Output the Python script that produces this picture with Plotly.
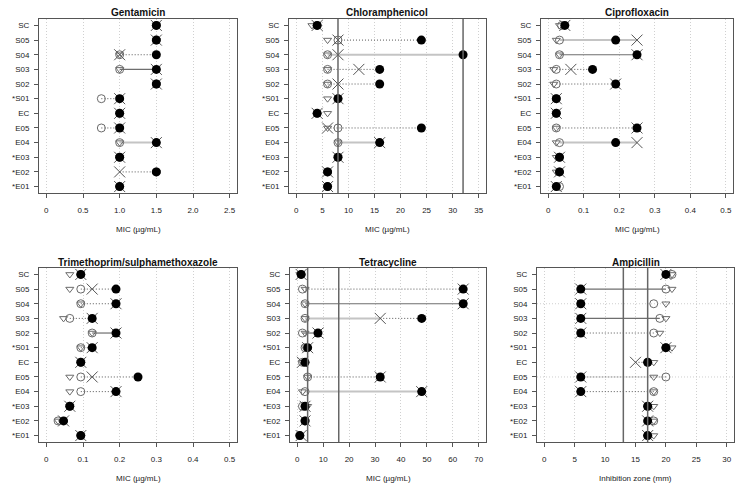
import plotly.graph_objects as go

cats = ["SC", "S05", "S04", "S03", "S02", "*S01", "EC", "E05", "E04", "*E03", "*E02", "*E01"]

# ---- Gentamicin ----
gen_tri   = [1.5, 1.5, 1.0, 1.0, 1.5, 1.0, 1.0, 1.0, 1.0, 1.0, 1.5, 1.0]
gen_circ  = [1.5, 1.5, 1.0, 1.0, 1.5, 0.75, 1.0, 0.75, 1.0, 1.0, 1.5, 1.0]
gen_x     = [1.5, 1.5, 1.0, 1.5, 1.5, 1.0, 1.0, 1.0, 1.5, 1.0, 1.0, 1.0]
gen_black = [1.5, 1.5, 1.5, 1.5, 1.5, 1.0, 1.0, 1.0, 1.5, 1.0, 1.5, 1.0]
gen_style = [None, None, "dot", "solid", None, "dot", None, "dot", "light", None, "dot", None]

# ---- Chloramphenicol ----
chl_tri   = [3, 6, 6, 6, 6, 6, 6, 6, 8, 8, 6, 6]
chl_circ  = [4, 8, 6, 6, 6, 8, 4, 8, 8, 8, 6, 6]
chl_x     = [4, 8, 8, 12, 8, 8, 4, 6, 16, 8, 6, 6]
chl_black = [4, 24, 32, 16, 16, 8, 4, 24, 16, 8, 6, 6]
chl_style = [None, "dot", "light", "dot", "dot", None, None, "dot", "light", None, None, None]

# ---- Ciprofloxacin ----
cip_tri   = [0.032, 0.023, 0.032, 0.016, 0.016, 0.023, 0.023, 0.023, 0.023, 0.023, 0.023, 0.023]
cip_circ  = [0.038, 0.032, 0.032, 0.023, 0.023, 0.023, 0.023, 0.023, 0.032, 0.032, 0.032, 0.032]
cip_x     = [0.047, 0.25, 0.25, 0.064, 0.19, 0.023, 0.023, 0.25, 0.25, 0.032, 0.032, 0.023]
cip_black = [0.047, 0.19, 0.25, 0.125, 0.19, 0.023, 0.023, 0.25, 0.19, 0.032, 0.032, 0.023]
cip_style = [None, "light", "solid", "dot", "dot", None, None, "dot", "light", None, None, None]

# ---- Trimethoprim/sulphamethoxazole ----
tmp_tri   = [0.064, 0.064, 0.094, 0.047, 0.125, 0.094, 0.094, 0.064, 0.064, 0.064, 0.032, 0.094]
tmp_circ  = [0.094, 0.094, 0.094, 0.064, 0.125, 0.094, 0.094, 0.094, 0.094, 0.064, 0.032, 0.094]
tmp_x     = [0.094, 0.125, 0.19, 0.125, 0.19, 0.125, 0.094, 0.125, 0.19, 0.064, 0.047, 0.094]
tmp_black = [0.094, 0.19, 0.19, 0.125, 0.19, 0.125, 0.094, 0.25, 0.19, 0.064, 0.047, 0.094]
tmp_style = [None, "dot", "dot", "dot", "solid", "dot", None, "dot", "dot", None, "dot", None]

# ---- Tetracycline ----
tet_tri   = [1, 3, 3, 3, 3, 3, 2, 4, 2, 4, 3, 1]
tet_circ  = [1.5, 2, 3, 3, 2, 3, 2, 4, 3, 2, 3, 1]
tet_x     = [1.5, 64, 64, 32, 8, 4, 2, 32, 48, 3, 3, 1.5]
tet_black = [1.5, 64, 64, 48, 8, 4, 3, 32, 48, 3, 3, 1]
tet_style = [None, "dot", "solid", "mixed", "solid", None, None, "dot", "light", None, None, None]

# ---- Ampicillin ----
amp_tri   = [21, 21, 20, 20, 19, 21, 18, 18, 18, 18, 18, 18]
amp_circ  = [21, 20, 18, 19, 18, 20, 17, 20, 18, 17, 18, 17]
amp_x     = [20, 6, 6, 6, 6, 20, 15, 6, 6, 17, 17, 17]
amp_black = [20, 6, 6, 6, 6, 20, 17, 6, 6, 17, 17, 17]
amp_style = [None, "solid", None, "solid", "dot", None, "dot", "dot", "dot", None, None, None]
amp_hgrid = ["S04", "E05"]

mic_label = "MIC (µg/mL)"
zone_label = "Inhibition zone (mm)"

panels = [
    dict(title="Gentamicin", tri=gen_tri, circ=gen_circ, x=gen_x, black=gen_black, style=gen_style,
         xmax=2.5, tv=[0, 0.5, 1.0, 1.5, 2.0, 2.5], tt=["0", "0.5", "1.0", "1.5", "2.0", "2.5"],
         breaks=[], hgrid=[], xlabel=mic_label, dom=(39, 237, 19, 193)),
    dict(title="Chloramphenicol", tri=chl_tri, circ=chl_circ, x=chl_x, black=chl_black, style=chl_style,
         xmax=35, tv=[0, 5, 10, 15, 20, 25, 30, 35], tt=["0", "5", "10", "15", "20", "25", "30", "35"],
         breaks=[8, 32], hgrid=[], xlabel=mic_label, dom=(289, 486, 19, 193)),
    dict(title="Ciprofloxacin", tri=cip_tri, circ=cip_circ, x=cip_x, black=cip_black, style=cip_style,
         xmax=0.5, tv=[0, 0.1, 0.2, 0.3, 0.4, 0.5], tt=["0", "0.1", "0.2", "0.3", "0.4", "0.5"],
         breaks=[], hgrid=[], xlabel=mic_label, dom=(541, 733, 19, 193)),
    dict(title="Trimethoprim/sulphamethoxazole", tri=tmp_tri, circ=tmp_circ, x=tmp_x, black=tmp_black,
         style=tmp_style, xmax=0.5, tv=[0, 0.1, 0.2, 0.3, 0.4, 0.5], tt=["0", "0.1", "0.2", "0.3", "0.4", "0.5"],
         breaks=[], hgrid=[], xlabel=mic_label, dom=(39, 237, 268, 442)),
    dict(title="Tetracycline", tri=tet_tri, circ=tet_circ, x=tet_x, black=tet_black, style=tet_style,
         xmax=70, tv=[0, 10, 20, 30, 40, 50, 60, 70], tt=["0", "10", "20", "30", "40", "50", "60", "70"],
         breaks=[4, 16], hgrid=[], xlabel=mic_label, dom=(290, 486, 268, 442)),
    dict(title="Ampicillin", tri=amp_tri, circ=amp_circ, x=amp_x, black=amp_black, style=amp_style,
         xmax=30, tv=[0, 5, 10, 15, 20, 25, 30], tt=["0", "5", "10", "15", "20", "25", "30"],
         breaks=[13, 17], hgrid=amp_hgrid, xlabel=zone_label, dom=(537, 734, 268, 442)),
]

W, H = 746, 490
ypos = [len(cats) - 1 - i for i in range(len(cats))]
FONT = "Liberation Sans, Arial, sans-serif"

fig = go.Figure()
annotations = []
shapes = []
layout = {}

line_styles = {
    "dot": dict(color="#555555", width=1, dash="1px,2px"),
    "solid": dict(color="#6e6e6e", width=1.2, dash="solid"),
    "light": dict(color="#c4c4c4", width=2, dash="solid"),
}

for k, p in enumerate(panels):
    n = k + 1
    xa = "x" if n == 1 else f"x{n}"
    ya = "y" if n == 1 else f"y{n}"
    x0, x1, y0, y1 = p["dom"]
    lo_r, hi_r = -0.04 * p["xmax"], 1.04 * p["xmax"]

    for c in p["hgrid"]:
        yy = ypos[cats.index(c)]
        fig.add_trace(go.Scatter(x=[lo_r, hi_r], y=[yy, yy], mode="lines",
                                 line=dict(color="#cfcfcf", width=1, dash="1px,2px"),
                                 xaxis=xa, yaxis=ya, hoverinfo="skip", showlegend=False))

    for i, st in enumerate(p["style"]):
        if st is None:
            continue
        vals = [p["circ"][i], p["x"][i], p["black"][i]]
        lo, hi = min(vals), max(vals)
        yy = ypos[i]
        if st == "mixed":
            fig.add_trace(go.Scatter(x=[lo, p["x"][i]], y=[yy, yy], mode="lines", line=line_styles["light"],
                                     xaxis=xa, yaxis=ya, hoverinfo="skip", showlegend=False))
            fig.add_trace(go.Scatter(x=[p["x"][i], hi], y=[yy, yy], mode="lines", line=line_styles["dot"],
                                     xaxis=xa, yaxis=ya, hoverinfo="skip", showlegend=False))
        else:
            fig.add_trace(go.Scatter(x=[lo, hi], y=[yy, yy], mode="lines", line=line_styles[st],
                                     xaxis=xa, yaxis=ya, hoverinfo="skip", showlegend=False))

    fig.add_trace(go.Scatter(x=p["tri"], y=ypos, mode="markers",
                             marker=dict(symbol="triangle-down-open", size=7, color="#6a6a6a", line=dict(width=1)),
                             xaxis=xa, yaxis=ya, showlegend=False))
    fig.add_trace(go.Scatter(x=p["circ"], y=ypos, mode="markers",
                             marker=dict(symbol="circle-open", size=8, color="#6a6a6a", line=dict(width=1)),
                             xaxis=xa, yaxis=ya, showlegend=False))
    fig.add_trace(go.Scatter(x=p["x"], y=ypos, mode="markers",
                             marker=dict(symbol="x-thin-open", size=11, color="#555555", line=dict(width=1)),
                             xaxis=xa, yaxis=ya, showlegend=False))
    fig.add_trace(go.Scatter(x=p["black"], y=ypos, mode="markers",
                             marker=dict(symbol="circle", size=9, color="#000000", line=dict(width=0)),
                             xaxis=xa, yaxis=ya, showlegend=False))

    for b in p["breaks"]:
        shapes.append(dict(type="line", xref=xa, yref=f"{ya} domain", x0=b, x1=b, y0=0, y1=1,
                           line=dict(color="#666666", width=1.5)))

    xdom = [x0 / W, x1 / W]
    ydom = [1 - y1 / H, 1 - y0 / H]
    axis_common = dict(showline=True, mirror=True, linecolor="#555555", linewidth=1,
                       ticks="outside", ticklen=4, tickcolor="#555555", zeroline=False,
                       tickfont=dict(size=8, color="#222222", family=FONT))
    layout["xaxis" if n == 1 else f"xaxis{n}"] = dict(
        domain=xdom, anchor=ya, range=[lo_r, hi_r], tickvals=p["tv"], ticktext=p["tt"],
        showgrid=True, gridcolor="#d0d0d0", griddash="1px,2px", gridwidth=1, ticklabelstandoff=5,
        **axis_common)
    layout["yaxis" if n == 1 else f"yaxis{n}"] = dict(
        domain=ydom, anchor=xa, range=[-0.44, len(cats) - 1 + 0.44], tickvals=ypos, ticktext=cats,
        showgrid=False, ticklabelstandoff=3, **axis_common)

    annotations.append(dict(text=f"<b>{p['title']}</b>", x=(x0 + x1) / 2 / W, y=1 - (y0 - 6) / H,
                            xref="paper", yref="paper", showarrow=False, xanchor="center", yanchor="middle",
                            font=dict(size=10, color="#111111", family=FONT)))
    annotations.append(dict(text=p["xlabel"], x=(x0 + x1) / 2 / W, y=1 - (y1 + 36) / H,
                            xref="paper", yref="paper", showarrow=False, xanchor="center", yanchor="middle",
                            font=dict(size=8, color="#222222", family=FONT)))

fig.update_layout(width=W, height=H, margin=dict(l=0, r=0, t=0, b=0),
                  paper_bgcolor="white", plot_bgcolor="white", showlegend=False,
                  annotations=annotations, shapes=shapes,
                  font=dict(family=FONT, size=8), **layout)

fig.write_html("out.html", config={"displayModeBar": False},
               post_script="document.body.style.margin='0';document.body.style.overflow='hidden';")
